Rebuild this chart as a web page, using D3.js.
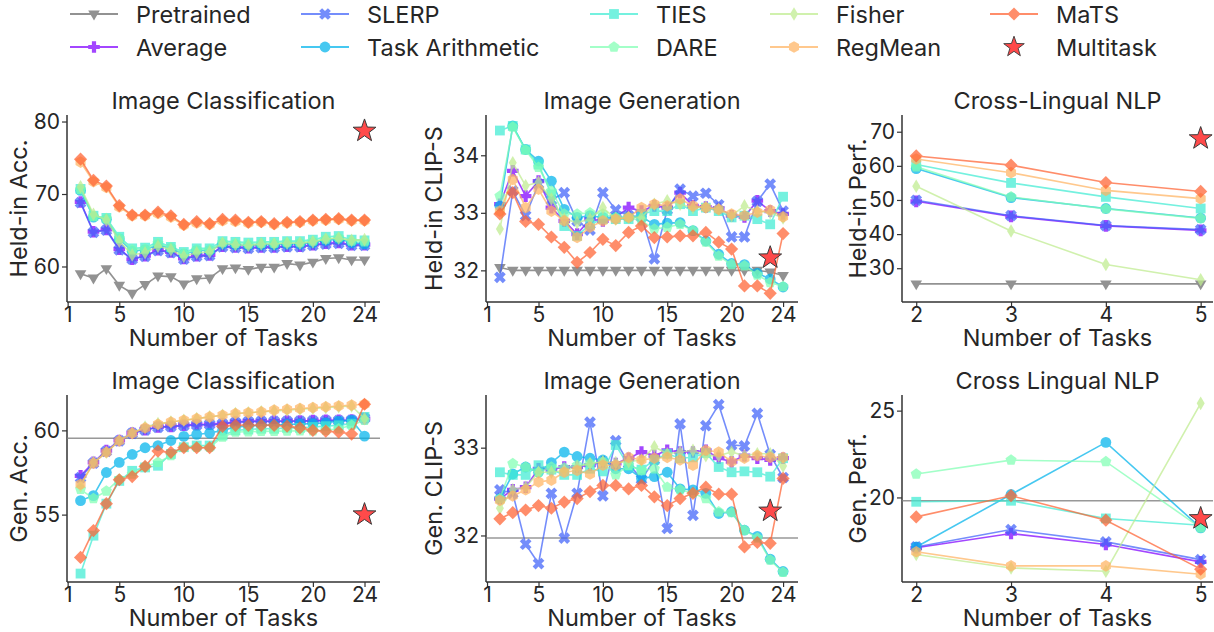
<!DOCTYPE html>
<html>
<head>
<meta charset="utf-8">
<script src="https://cdn.jsdelivr.net/npm/d3@7"></script>
<style>
  body { margin: 0; background: #fff; }
  text { font-family: Inter, "Noto Sans", sans-serif; fill: #262626; }
</style>
</head>
<body>
<svg width="1214" height="632"></svg>
<script>
// methods, in plotting order
const METHODS = ["Pretrained", "Average", "SLERP", "Task Arithmetic", "TIES", "DARE", "Fisher", "RegMean", "MaTS"];
const MARKERS = ["v", "P", "X", "o", "s", "p", "d", "h", "D"];
// matplotlib "rainbow" at i/8, gray for pretrained
const COLORS = ["#7f7f7f", "#8000ff", "#4062fa", "#00b4ec", "#40ecd4", "#80ffb4", "#bfec8e", "#ffb462", "#ff6232"];

const TASKS_24 = [2, 3, 4, 5, 6, 7, 8, 9, 10, 11, 12, 13, 14, 15, 16, 17, 18, 19, 20, 21, 22, 23, 24];
const TASKS_NLP = [2, 3, 4, 5];
const TICKS_24 = [1, 5, 10, 15, 20, 24];

// Image Classification, held-in accuracy (rows follow METHODS)
const IC_HELD = [
  [59.0, 58.4, 59.7, 57.4, 56.3, 57.5, 58.7, 58.6, 57.6, 58.3, 58.4, 59.7, 59.8, 59.6, 59.9, 59.9, 60.4, 60.2, 60.6, 61.1, 61.2, 60.9, 60.9],
  [68.9, 64.8, 65.1, 62.4, 61.0, 61.5, 62.3, 62.0, 61.1, 61.5, 61.6, 62.8, 62.7, 62.6, 62.7, 62.7, 62.8, 62.8, 63.0, 63.2, 63.3, 63.0, 63.0],
  [68.8, 64.7, 65.0, 62.3, 61.0, 61.4, 62.2, 61.9, 61.0, 61.4, 61.5, 62.7, 62.6, 62.5, 62.6, 62.6, 62.7, 62.7, 62.9, 63.1, 63.2, 62.9, 62.9],
  [70.5, 66.8, 66.5, 63.8, 62.1, 62.3, 63.0, 62.5, 61.7, 62.2, 62.2, 63.1, 63.0, 62.9, 63.0, 63.0, 63.1, 63.1, 63.3, 63.6, 63.8, 63.3, 63.1],
  [70.7, 67.0, 66.7, 64.1, 62.5, 62.6, 63.4, 62.7, 62.0, 62.5, 62.5, 63.5, 63.4, 63.3, 63.4, 63.4, 63.5, 63.5, 63.7, 64.1, 64.2, 63.7, 63.6],
  [70.6, 66.9, 66.6, 63.9, 62.3, 62.4, 63.2, 62.6, 61.8, 62.3, 62.3, 63.3, 63.2, 63.1, 63.2, 63.2, 63.3, 63.3, 63.5, 63.8, 64.0, 63.5, 63.4],
  [71.0, 67.2, 66.4, 63.5, 61.6, 61.9, 62.8, 62.3, 61.4, 61.9, 62.0, 63.2, 63.0, 62.9, 63.1, 63.1, 63.2, 63.2, 63.4, 63.8, 63.9, 63.6, 63.7],
  [74.4, 71.7, 70.9, 68.2, 67.0, 67.0, 67.3, 66.8, 65.7, 66.0, 65.8, 66.3, 66.2, 66.0, 66.1, 65.8, 66.0, 66.1, 66.3, 66.4, 66.5, 66.3, 66.3],
  [74.8, 71.9, 71.1, 68.4, 67.1, 67.1, 67.5, 67.0, 65.8, 66.2, 65.9, 66.5, 66.4, 66.1, 66.2, 65.9, 66.1, 66.2, 66.4, 66.5, 66.6, 66.4, 66.4]
];

// Image Generation, held-in CLIP-S
const IG_HELD = [
  [32.05, 32.0, 32.0, 32.0, 32.0, 32.0, 32.0, 32.0, 32.0, 32.0, 32.0, 32.0, 32.0, 32.0, 32.0, 32.0, 32.0, 32.0, 32.0, 32.0, 32.0, 31.97, 31.91],
  [33.15, 33.73, 33.29, 33.55, 33.09, 32.86, 32.63, 32.89, 32.86, 32.92, 33.09, 33.03, 33.12, 33.09, 33.35, 33.12, 33.1, 33.08, 32.95, 32.93, 33.21, 33.03, 32.98],
  [31.88, 33.38, 32.95, 33.5, 33.22, 33.35, 32.86, 32.7, 33.35, 33.05, 32.95, 32.93, 32.2, 33.05, 33.41, 33.29, 33.34, 33.14, 32.58, 32.58, 33.2, 33.5, 33.03],
  [33.12, 34.51, 34.1, 33.9, 33.55, 33.06, 32.92, 32.95, 32.92, 32.92, 32.92, 32.93, 32.8, 32.82, 32.83, 32.69, 32.51, 32.28, 32.12, 32.1, 31.95, 31.85, 31.71],
  [34.43, 34.51, 34.1, 33.84, 33.32, 32.77, 32.6, 32.8, 32.89, 32.89, 32.89, 32.98, 33.03, 33.03, 33.15, 33.03, 33.09, 33.03, 32.92, 32.95, 32.89, 32.8, 33.28],
  [33.29, 34.49, 34.09, 33.79, 33.38, 32.98, 32.98, 33.0, 32.98, 32.92, 32.92, 32.86, 32.72, 32.75, 32.8, 32.69, 32.49, 32.25, 32.1, 32.08, 31.92, 31.79, 31.72],
  [32.72, 33.87, 33.47, 33.53, 33.24, 32.89, 32.83, 32.89, 33.09, 32.89, 32.92, 32.92, 33.15, 33.21, 33.15, 33.09, 33.1, 33.06, 32.95, 33.12, 33.03, 33.0, 32.91],
  [33.03, 33.58, 33.09, 33.41, 33.03, 32.86, 32.57, 32.75, 32.86, 32.89, 32.92, 33.09, 33.15, 33.12, 33.24, 33.12, 33.09, 33.06, 32.98, 32.95, 33.01, 33.05, 32.93],
  [32.98, 33.35, 32.85, 32.8, 32.58, 32.4, 32.14, 32.31, 32.54, 32.43, 32.66, 32.77, 32.57, 32.58, 32.6, 32.6, 32.66, 32.49, 32.37, 31.73, 31.73, 31.6, 32.64]
];

// Cross-Lingual NLP, held-in performance
const NLP_HELD = [
  [25.4, 25.4, 25.4, 25.4],
  [49.6, 45.2, 42.4, 41.1],
  [49.9, 45.4, 42.5, 41.3],
  [59.2, 50.7, 47.5, 44.7],
  [60.4, 55.0, 50.9, 47.5],
  [59.7, 50.9, 47.4, 44.6],
  [54.0, 40.9, 31.1, 26.6],
  [62.0, 58.0, 52.8, 50.4],
  [62.9, 60.2, 55.1, 52.5]
];

// Image Classification, generalization accuracy (Pretrained is a flat line)
const IC_GEN_PRETRAINED = 59.54;
const IC_GEN = [
  [],
  [57.3, 58.1, 58.8, 59.4, 59.84, 60.04, 60.2, 60.24, 60.3, 60.34, 60.36, 60.4, 60.5, 60.55, 60.55, 60.55, 60.56, 60.56, 60.58, 60.6, 60.6, 60.62, 60.7],
  [57.2, 58.05, 58.75, 59.38, 59.82, 60.02, 60.18, 60.22, 60.28, 60.32, 60.35, 60.38, 60.48, 60.52, 60.53, 60.53, 60.54, 60.55, 60.56, 60.58, 60.58, 60.6, 60.72],
  [55.83, 56.13, 57.5, 58.1, 58.57, 58.97, 59.1, 59.4, 59.64, 59.76, 59.84, 60.0, 60.2, 60.25, 60.3, 60.32, 60.35, 60.38, 60.4, 60.45, 60.55, 60.6, 59.66],
  [51.5, 53.75, 55.65, 57.0, 57.6, 57.8, 57.9, 58.6, 59.0, 59.1, 59.1, 59.7, 60.0, 60.05, 60.1, 60.1, 60.15, 60.15, 60.2, 60.25, 60.3, 60.4, 60.8],
  [56.5, 55.95, 56.4, 57.1, 57.4, 57.85, 58.1, 58.5, 59.0, 59.0, 59.0, 59.6, 59.9, 59.92, 59.94, 59.95, 59.96, 59.97, 59.98, 60.0, 60.1, 60.3, 60.6],
  [56.7, 58.1, 58.7, 59.4, 59.84, 60.2, 60.4, 60.5, 60.6, 60.7, 60.8, 60.9, 61.0, 61.05, 61.1, 61.15, 61.2, 61.25, 61.3, 61.35, 61.4, 61.45, 60.7],
  [56.8, 58.05, 58.7, 59.38, 59.82, 60.15, 60.36, 60.5, 60.6, 60.7, 60.8, 60.9, 61.0, 61.05, 61.1, 61.2, 61.25, 61.3, 61.35, 61.4, 61.45, 61.5, 61.55],
  [52.46, 54.05, 55.65, 57.07, 57.26, 57.86, 58.77, 58.7, 58.97, 58.97, 58.97, 60.24, 60.3, 60.3, 60.3, 60.3, 60.25, 60.15, 60.0, 59.95, 59.9, 59.78, 61.55]
];

// Image Generation, generalization CLIP-S
const IG_GEN_PRETRAINED = 31.97;
const IG_GEN = [
  [],
  [32.42, 32.52, 32.55, 32.76, 32.75, 32.78, 32.78, 32.8, 32.84, 32.82, 32.88, 32.95, 32.91, 32.97, 32.95, 32.95, 32.97, 32.88, 32.84, 32.91, 32.88, 32.86, 32.88],
  [32.52, 32.48, 31.9, 31.68, 32.48, 31.97, 32.48, 33.29, 32.45, 33.08, 32.82, 32.64, 32.86, 32.08, 33.27, 32.23, 33.25, 33.49, 33.03, 33.02, 33.39, 32.92, 32.66],
  [32.42, 32.7, 32.78, 32.72, 32.83, 32.95, 32.9, 32.88, 32.86, 32.76, 32.76, 32.65, 32.67, 32.72, 32.53, 32.52, 32.48, 32.25, 32.27, 32.06, 31.99, 31.73, 31.59],
  [32.72, 32.69, 32.69, 32.8, 32.75, 32.69, 32.69, 32.76, 32.73, 33.03, 32.79, 32.75, 32.86, 32.93, 32.88, 32.89, 32.94, 32.78, 32.72, 32.73, 32.72, 32.67, 32.88],
  [32.42, 32.82, 32.78, 32.72, 32.78, 32.77, 32.8, 32.82, 32.84, 32.69, 32.8, 32.74, 32.76, 32.55, 32.52, 32.48, 32.42, 32.27, 32.26, 32.06, 31.97, 31.72, 31.58],
  [32.31, 32.52, 32.55, 32.72, 32.72, 32.74, 32.78, 32.82, 32.84, 32.83, 32.84, 32.86, 33.01, 32.93, 32.95, 32.97, 32.91, 32.91, 32.95, 32.91, 32.93, 32.93, 32.79],
  [32.4, 32.45, 32.52, 32.61, 32.63, 32.72, 32.74, 32.7, 32.8, 32.8, 32.89, 32.86, 32.88, 32.89, 32.86, 32.8, 32.97, 32.95, 32.84, 32.88, 32.91, 32.89, 32.89],
  [32.19, 32.26, 32.29, 32.34, 32.31, 32.38, 32.42, 32.5, 32.57, 32.57, 32.53, 32.57, 32.44, 32.34, 32.42, 32.48, 32.55, 32.47, 32.47, 31.87, 31.92, 31.91, 32.65]
];

// Cross Lingual NLP, generalization performance
const NLP_GEN_PRETRAINED = 19.81;
const NLP_GEN = [
  [],
  [17.1, 17.92, 17.29, 16.29],
  [17.15, 18.15, 17.44, 16.42],
  [17.15, 20.17, 23.17, 18.25],
  [19.75, 19.81, 18.79, 18.4],
  [21.35, 22.15, 22.06, 18.25],
  [16.71, 15.94, 15.75, 25.42],
  [16.87, 16.06, 16.06, 15.58],
  [18.88, 20.1, 18.69, 15.87]
];

// Multitask reference: [number of tasks, value]
const MULTITASK = [[24, 78.7], [23, 32.22], [5, 68.0], [24, 55.0], [23, 32.28], [5, 18.79]];

const FONT_LABEL = 23.5;
const FONT_TICK = 21;

const svg = d3.select("svg");

function poly(pts) {
  return "M" + pts.map(p => p[0].toFixed(2) + "," + p[1].toFixed(2)).join("L") + "Z";
}
function regular(n, r, rot) {
  const pts = [];
  for (let i = 0; i < n; i++) {
    const a = rot + i * 2 * Math.PI / n;
    pts.push([r * Math.sin(a), -r * Math.cos(a)]);
  }
  return pts;
}
function crossPts(r, w, ang) {
  const base = [[-w, -r], [w, -r], [w, -w], [r, -w], [r, w], [w, w], [w, r], [-w, r], [-w, w], [-r, w], [-r, -w], [-w, -w]];
  const c = Math.cos(ang), s = Math.sin(ang);
  return base.map(p => [p[0] * c - p[1] * s, p[0] * s + p[1] * c]);
}
function markerPath(m) {
  switch (m) {
    case "v": return poly([[0, 6.4], [-5.8, -3.5], [5.8, -3.5]]);
    case "o": return "M5.4,0A5.4,5.4 0 1,1 -5.4,0A5.4,5.4 0 1,1 5.4,0Z";
    case "s": return poly([[-4.9, -4.9], [4.9, -4.9], [4.9, 4.9], [-4.9, 4.9]]);
    case "D": return poly([[0, -6.6], [6.6, 0], [0, 6.6], [-6.6, 0]]);
    case "d": return poly([[0, -6.8], [4.0, 0], [0, 6.8], [-4.0, 0]]);
    case "p": return poly(regular(5, 5.8, 0));
    case "h": return poly(regular(6, 5.8, 0));
    case "P": return poly(crossPts(5.8, 2.1, 0));
    case "X": return poly(crossPts(6.2, 2.1, Math.PI / 4));
    case "*": {
      const pts = [];
      for (let i = 0; i < 10; i++) {
        const r = i % 2 === 0 ? 12 : 4.8;
        const a = i * Math.PI / 5;
        pts.push([r * Math.sin(a), -r * Math.cos(a)]);
      }
      return poly(pts);
    }
  }
}

const PANELS = [
  { x0: 67, x1: 380, y0: 115, y1: 302, xd: [0.95, 25.2], yd: [55.1, 80.9], yt: [60, 70, 80], xt: TICKS_24, xs: TASKS_24,
    title: "Image Classification", ylab: "Held-in Acc.", ylabX: 18, data: IC_HELD },
  { x0: 486, x1: 798, y0: 115, y1: 302, xd: [0.92, 25.16], yd: [31.45, 34.7], yt: [32, 33, 34], xt: TICKS_24, xs: TASKS_24,
    title: "Image Generation", ylab: "Held-in CLIP-S", ylabX: 433, data: IG_HELD },
  { x0: 902, x1: 1213, y0: 115, y1: 302, xd: [1.85, 5.13], yd: [20.1, 74.9], yt: [30, 40, 50, 60, 70], xt: TASKS_NLP, xs: TASKS_NLP,
    title: "Cross-Lingual NLP", ylab: "Held-in Perf.", ylabX: 857, data: NLP_HELD },
  { x0: 67, x1: 380, y0: 395, y1: 582, xd: [0.95, 25.2], yd: [51.0, 62.1], yt: [55, 60], xt: TICKS_24, xs: TASKS_24,
    title: "Image Classification", ylab: "Gen. Acc.", ylabX: 18, data: IC_GEN, pre: IC_GEN_PRETRAINED },
  { x0: 486, x1: 798, y0: 395, y1: 582, xd: [0.92, 25.16], yd: [31.47, 33.6], yt: [32, 33], xt: TICKS_24, xs: TASKS_24,
    title: "Image Generation", ylab: "Gen. CLIP-S", ylabX: 433, data: IG_GEN, pre: IG_GEN_PRETRAINED },
  { x0: 902, x1: 1213, y0: 395, y1: 582, xd: [1.85, 5.13], yd: [15.13, 25.9], yt: [20, 25], xt: TASKS_NLP, xs: TASKS_NLP,
    title: "Cross Lingual NLP", ylab: "Gen. Perf.", ylabX: 857, data: NLP_GEN, pre: NLP_GEN_PRETRAINED }
];

PANELS.forEach((p, pi) => {
  const x = d3.scaleLinear().domain(p.xd).range([p.x0, p.x1]);
  const y = d3.scaleLinear().domain(p.yd).range([p.y1, p.y0]);
  const g = svg.append("g");

  // axes
  const xa = g.append("g").attr("transform", `translate(0,${p.y1})`)
    .call(d3.axisBottom(x).tickValues(p.xt).tickSize(5).tickPadding(0).tickFormat(d3.format("d")));
  const ya = g.append("g").attr("transform", `translate(${p.x0},0)`)
    .call(d3.axisLeft(y).tickValues(p.yt).tickSize(5).tickPadding(2).tickFormat(d3.format("d")));
  [xa, ya].forEach(a => {
    a.select(".domain").attr("stroke", "#333").attr("stroke-width", 1.5);
    a.selectAll(".tick line").attr("stroke", "#333").attr("stroke-width", 1.2);
    a.selectAll(".tick text").attr("font-size", FONT_TICK).attr("font-family", "Inter").attr("fill", "#262626");
  });
  xa.select(".domain").attr("d", `M${p.x0},0H${p.x1}`);
  ya.select(".domain").attr("d", `M0,${p.y0}V${p.y1}`);

  g.append("text").attr("x", (p.x0 + p.x1) / 2).attr("y", p.y0 - 6)
    .attr("text-anchor", "middle").attr("font-size", FONT_LABEL).text(p.title);
  g.append("text").attr("x", (p.x0 + p.x1) / 2).attr("y", p.y1 + 44)
    .attr("text-anchor", "middle").attr("font-size", FONT_LABEL).text("Number of Tasks");
  g.append("text").attr("transform", `translate(${p.ylabX},${(p.y0 + p.y1) / 2}) rotate(-90)`)
    .attr("text-anchor", "middle").attr("dominant-baseline", "central").attr("font-size", FONT_LABEL).text(p.ylab);

  // flat pretrained line for generalization panels
  if (p.pre !== undefined) {
    g.append("line").attr("x1", p.x0).attr("x2", p.x1).attr("y1", y(p.pre)).attr("y2", y(p.pre))
      .attr("stroke", COLORS[0]).attr("stroke-width", 1.5).attr("opacity", 0.8);
  }

  const line = d3.line().x(d => x(d[0])).y(d => y(d[1]));
  p.data.forEach((vals, mi) => {
    if (!vals.length) return;
    const pts = vals.map((v, i) => [p.xs[i], v]);
    const sg = g.append("g").attr("opacity", mi === 0 ? 0.85 : 0.72);
    sg.append("path").datum(pts).attr("d", line).attr("fill", "none")
      .attr("stroke", COLORS[mi]).attr("stroke-width", 1.6);
    sg.selectAll("path.mk").data(pts).enter().append("path").attr("class", "mk")
      .attr("d", markerPath(MARKERS[mi]))
      .attr("transform", d => `translate(${x(d[0])},${y(d[1])})`)
      .attr("fill", COLORS[mi]);
  });

  const mt = MULTITASK[pi];
  g.append("path").attr("d", markerPath("*"))
    .attr("transform", `translate(${x(mt[0])},${y(mt[1])})`)
    .attr("fill", "#ff4a4a").attr("stroke", "#3a3a3a").attr("stroke-width", 1);
});

// legend, column-major like matplotlib ncol=5
const LEG_COLS = [70, 301, 590, 770, 990];
const LEG_ROWS = [14, 47];
const legendItems = METHODS.map((name, i) => ({ name, color: COLORS[i], marker: MARKERS[i] }));
legendItems.push({ name: "Multitask", color: "#ff4a4a", marker: "*" });
legendItems.forEach((it, i) => {
  const cx = LEG_COLS[Math.floor(i / 2)], cy = LEG_ROWS[i % 2];
  const lg = svg.append("g").attr("transform", `translate(${cx},${cy})`);
  if (it.marker === "*") {
    lg.append("path").attr("d", markerPath("*")).attr("transform", "translate(24,0) scale(0.9)")
      .attr("fill", it.color).attr("stroke", "#3a3a3a").attr("stroke-width", 1);
  } else {
    const sg = lg.append("g").attr("opacity", i === 0 ? 0.85 : 0.72);
    sg.append("line").attr("x1", 0).attr("x2", 48).attr("stroke", it.color).attr("stroke-width", 2);
    sg.append("path").attr("d", markerPath(it.marker)).attr("transform", "translate(24,0)").attr("fill", it.color);
  }
  lg.append("text").attr("x", 66).attr("dominant-baseline", "central").attr("font-size", FONT_LABEL).text(it.name);
});
</script>
</body>
</html>
